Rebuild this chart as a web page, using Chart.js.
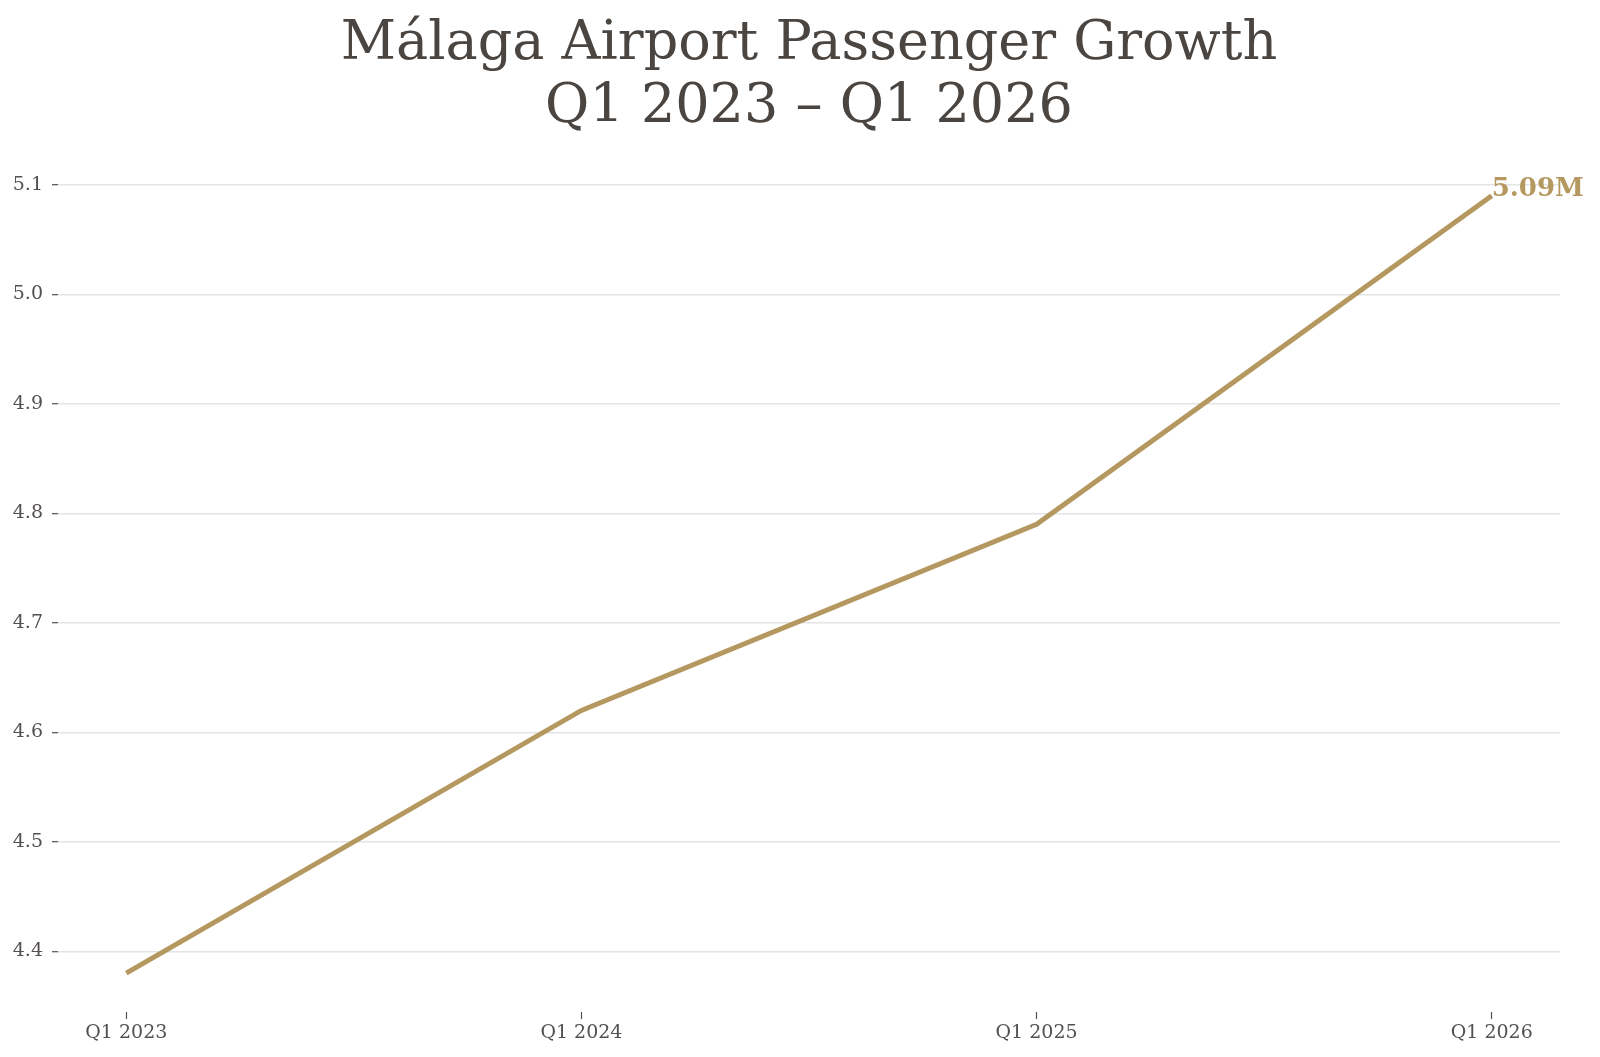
<!DOCTYPE html>
<html>
<head>
<meta charset="utf-8">
<style>
  html, body { margin: 0; padding: 0; background: #ffffff; }
  #wrap { width: 1600px; height: 1057px; }
</style>
<script src="https://cdn.jsdelivr.net/npm/chart.js@4.4.1/dist/chart.umd.min.js"></script>
</head>
<body>
<div id="wrap"><canvas id="chart" width="1600" height="1057"></canvas></div>
<script>
// data (millions of passengers)
const quarters = ["Q1 2023", "Q1 2024", "Q1 2025", "Q1 2026"];
const passengers = [4.38, 4.62, 4.79, 5.09];
const yTicks = [4.4, 4.5, 4.6, 4.7, 4.8, 4.9, 5.0, 5.1];
const lastLabel = "5.09M";

const gold = "#b5985f";
const ink = "#4a4541";
const tickInk = "#555050";
const serif = "'DejaVu Serif', 'Liberation Serif', serif";

// 5% margins like the original plot
const lo = Math.min(...passengers), hi = Math.max(...passengers);
const pad = (hi - lo) * 0.05;
const xPad = (quarters.length - 1) * 0.05;

const points = quarters.map((q, i) => ({ x: i, y: passengers[i] }));

// end label drawn at the last point
const endLabel = {
  id: "endLabel",
  afterDatasetsDraw(chart) {
    const xs = chart.scales.x, ys = chart.scales.y;
    const n = passengers.length - 1;
    const ctx = chart.ctx;
    ctx.save();
    ctx.font = "bold 26px " + serif;
    ctx.fillStyle = gold;
    ctx.textAlign = "left";
    ctx.textBaseline = "alphabetic";
    ctx.fillText(lastLabel, xs.getPixelForValue(n), ys.getPixelForValue(passengers[n]));
    ctx.restore();
  }
};

const ctx = document.getElementById("chart").getContext("2d");
new Chart(ctx, {
  type: "line",
  data: {
    datasets: [{
      data: points,
      borderColor: gold,
      borderWidth: 5,
      pointRadius: 0,
      fill: false,
      tension: 0
    }]
  },
  options: {
    responsive: false,
    animation: false,
    layout: { padding: { left: 0, right: 40, top: 0, bottom: 0 } },
    plugins: {
      legend: { display: false },
      tooltip: { enabled: false },
      title: {
        display: true,
        text: ["Málaga Airport Passenger Growth", "Q1 2023 – Q1 2026"],
        color: ink,
        fullSize: false,
        font: { family: serif, size: 54, weight: "normal", lineHeight: 1.157 },
        padding: { top: 14, bottom: 18 }
      }
    },
    scales: {
      x: {
        type: "linear",
        min: -xPad,
        max: quarters.length - 1 + xPad,
        border: { display: false },
        grid: { drawOnChartArea: false, drawTicks: true, tickLength: 7, tickColor: tickInk, tickWidth: 1.2 },
        afterBuildTicks(scale) { scale.ticks = quarters.map((q, i) => ({ value: i })); },
        afterFit(scale) { scale.height = 45; },
        ticks: {
          color: tickInk,
          font: { family: serif, size: 19 },
          padding: 3,
          maxRotation: 0,
          autoSkip: false,
          callback: (v) => quarters[v]
        }
      },
      y: {
        min: lo - pad,
        max: hi + pad,
        border: { display: false },
        grid: { color: "#e4e4e4", lineWidth: 1.4, tickLength: 6, tickColor: tickInk, tickWidth: 1.2 },
        afterBuildTicks(scale) { scale.ticks = yTicks.map(v => ({ value: v })); },
        afterFit(scale) { scale.width = 58; },
        ticks: {
          color: tickInk,
          font: { family: serif, size: 19 },
          padding: 9,
          callback: (v) => v.toFixed(1)
        }
      }
    }
  },
  plugins: [endLabel]
});
</script>
</body>
</html>
